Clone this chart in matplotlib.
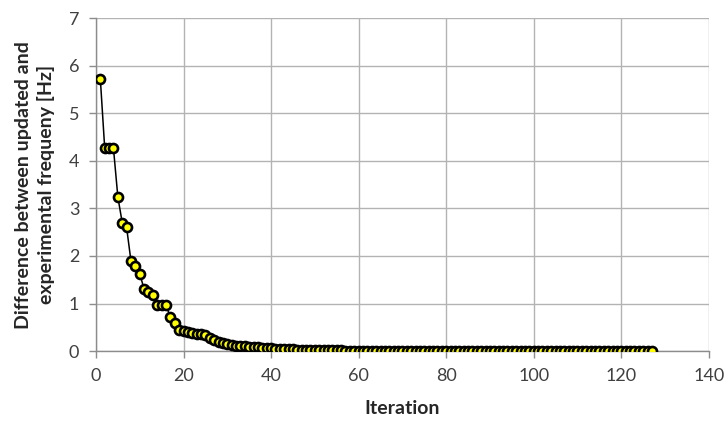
import matplotlib
matplotlib.use("Agg")
import matplotlib.pyplot as plt

plt.rcParams['font.family'] = ['Lato', 'DejaVu Sans']

head_values = [5.72, 4.26, 4.26, 4.26, 3.24, 2.70, 2.60, 1.89, 1.79, 1.63,
               1.30, 1.25, 1.17, 0.97, 0.97, 0.96, 0.72, 0.59, 0.44, 0.43,
               0.41, 0.38, 0.37, 0.37, 0.34, 0.27, 0.23, 0.20, 0.16, 0.14,
               0.13, 0.11, 0.10, 0.10, 0.09, 0.08, 0.08, 0.07, 0.07, 0.06,
               0.05, 0.04, 0.04, 0.04, 0.04, 0.03, 0.03, 0.03, 0.02, 0.02,
               0.02, 0.02, 0.02, 0.02, 0.02, 0.02, 0.01]
tail_values = [0.01, 0.01, 0.01, 0.01, 0.01, 0.01, 0.01, 0.01, 0.005, 0.005,
               0.005, 0.005, 0.005, 0.005, 0.005, 0.005, 0.005, 0.005, 0.005, 0.005,
               0.004, 0.004, 0.004, 0.004, 0.004, 0.004, 0.004, 0.004, 0.004, 0.004,
               0.003, 0.003, 0.003, 0.003, 0.003, 0.003, 0.003, 0.003, 0.003, 0.003,
               0.003, 0.003, 0.003, 0.003, 0.003, 0.003, 0.003, 0.003, 0.003, 0.003,
               0.002, 0.002, 0.002, 0.002, 0.002, 0.002, 0.002, 0.002, 0.002, 0.002,
               0.002, 0.002, 0.002, 0.002, 0.002, 0.002, 0.002, 0.002, 0.002, 0.002]
differences = head_values + tail_values
iterations = list(range(1, len(differences) + 1))

x_ticks = [0, 20, 40, 60, 80, 100, 120, 140]
y_ticks = [0, 1, 2, 3, 4, 5, 6, 7]

fig = plt.figure(figsize=(7.27, 4.22), dpi=100)
ax = fig.add_axes([0.132, 0.168, 0.843, 0.789])

ax.plot(iterations, differences, color='black', linewidth=1.1,
        marker='o', markersize=6.5, markerfacecolor='#FFFF00',
        markeredgecolor='black', markeredgewidth=1.9, zorder=3)

ax.set_xlim(0, 140)
ax.set_ylim(0, 7)
ax.set_xticks(x_ticks)
ax.set_yticks(y_ticks)
ax.grid(True, color='#b3b3b3', linewidth=1.0)
ax.set_axisbelow(True)
for s in ['top', 'right']:
    ax.spines[s].set_visible(False)
for s in ['left', 'bottom']:
    ax.spines[s].set_color('#8c8c8c')
    ax.spines[s].set_linewidth(1.0)
ax.tick_params(axis='both', colors='#8c8c8c', labelcolor='#404040',
               labelsize=13, length=5, width=1.0, direction='out')
ax.tick_params(axis='x', pad=7)
ax.tick_params(axis='y', pad=7)

ax.set_xlabel('Iteration', fontsize=14, fontweight='bold', color='#262626', labelpad=12)
ax.set_ylabel('Difference between updated and\nexperimental frequeny [Hz]',
              fontsize=14, fontweight='bold', color='#262626', labelpad=10,
              linespacing=1.3)

fig.savefig('out.png', dpi=100)
